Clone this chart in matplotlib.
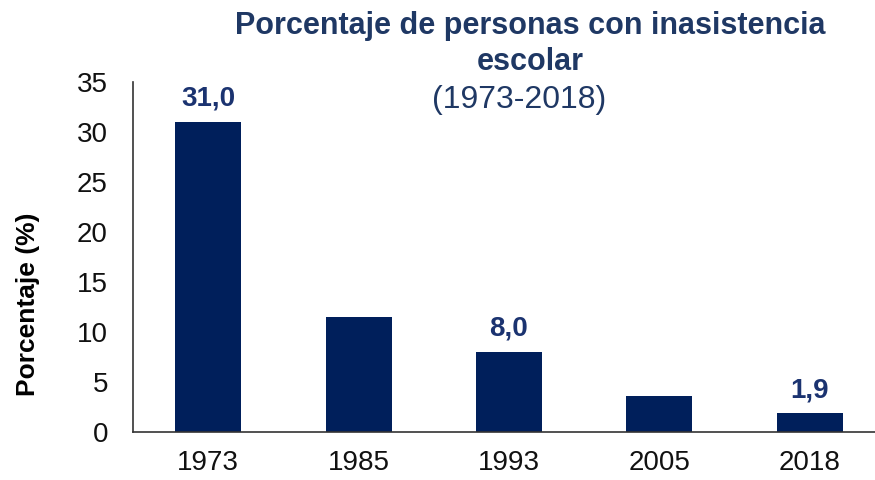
import matplotlib.pyplot as plt

years = ["1973", "1985", "1993", "2005", "2018"]
values = [31.0, 11.5, 8.0, 3.6, 1.9]
labelled = {"1973": "31,0", "1993": "8,0", "2018": "1,9"}

BAR = "#001F5B"
LABEL = "#1B3370"
TITLE = "#1F3864"

plt.rcParams["font.family"] = ["Liberation Sans", "DejaVu Sans"]

fig = plt.figure(figsize=(8.75, 4.8), dpi=100)
ax = fig.add_axes([133 / 875, 48 / 480, 752 / 875, 350 / 480])

x = list(range(len(years)))
bars = ax.bar(x, values, width=0.44, color=BAR, zorder=2)
for b, yr, v in zip(bars, years, values):
    if yr in labelled:
        ax.text(b.get_x() + b.get_width() / 2, v + 1.0, labelled[yr],
                ha="center", va="bottom", fontsize=20, fontweight="bold", color=LABEL)

ax.set_xlim(-0.5, 4.5)
ax.set_ylim(0, 35)
ax.set_yticks(range(0, 36, 5))
ax.set_xticks(x)
ax.set_xticklabels(years)
ax.tick_params(axis="both", length=0, labelsize=20, colors="#111111")
ax.tick_params(axis="y", pad=18)
ax.tick_params(axis="x", pad=13)
for s in ["top", "right"]:
    ax.spines[s].set_visible(False)
ax.spines["left"].set_color("#333333")
ax.spines["bottom"].set_color("#333333")
ax.spines["left"].set_linewidth(1.2)
ax.spines["bottom"].set_linewidth(1.2)
ax.set_ylabel("Porcentaje (%)", fontsize=19, fontweight="bold", va="center")
ax.yaxis.set_label_coords(-105 / 752, (432 - 304) / 350)

fig.text(530 / 875, 1 - 26 / 480, "Porcentaje de personas con inasistencia",
         ha="center", va="center", fontsize=22, fontweight="bold", color=TITLE)
fig.text(530 / 875, 1 - 62 / 480, "escolar",
         ha="center", va="center", fontsize=22, fontweight="bold", color=TITLE)
fig.text(519 / 875, 1 - 100 / 480, "(1973-2018)",
         ha="center", va="center", fontsize=23, color=TITLE)

fig.savefig("out.png", dpi=100)
